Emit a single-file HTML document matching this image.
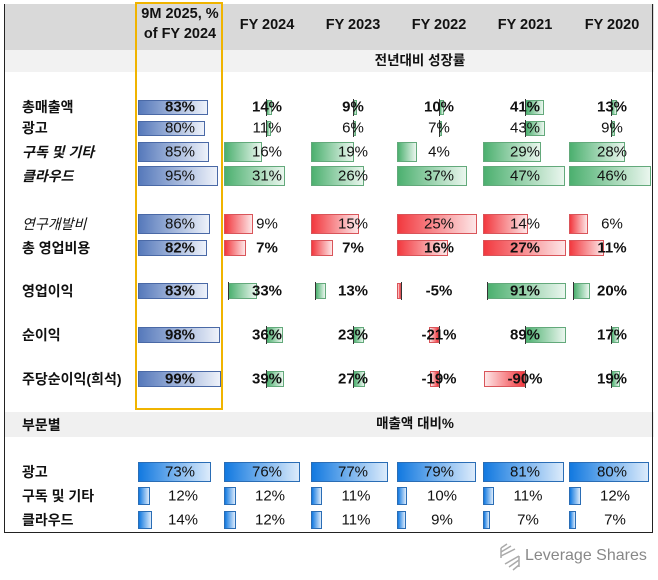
<!DOCTYPE html>
<html><head><meta charset="utf-8">
<style>
body{margin:0;background:#fff;width:658px;height:580px;position:relative;overflow:hidden;font-family:"Liberation Sans","Noto Sans CJK KR",sans-serif;}
.a{position:absolute;}
.lbl{position:absolute;left:22px;font-size:14px;font-weight:bold;color:#111;transform:translateY(-50%);white-space:nowrap;}
.val{position:absolute;font-size:15px;color:#111;transform:translate(-50%,-50%);white-space:nowrap;z-index:3;}
.bar{position:absolute;box-sizing:border-box;z-index:1;}
.axis{position:absolute;width:1px;background:#333;z-index:2;}
.hd{position:absolute;font-size:14.5px;font-weight:bold;color:#111;text-align:center;transform:translate(-50%,-50%);white-space:nowrap;line-height:20px;}
</style></head><body>
<div class="a" style="left:4px;top:4px;width:650px;height:46px;background:#d9d9d9"></div>
<div class="a" style="left:4px;top:50px;width:650px;height:22px;background:#f2f2f2"></div>
<div class="a" style="left:4px;top:412px;width:650px;height:25px;background:#f0f0f0"></div>
<div class="a" style="left:4px;top:4px;width:649px;height:529px;border:1px solid #222;border-top:none;box-sizing:border-box"></div>
<div class="a" style="left:135px;top:2px;width:88px;height:408px;border:2px solid #f0b400;box-sizing:border-box;z-index:4"></div>
<div class="hd" style="left:180px;top:24px">9M 2025, %<br>of FY 2024</div>
<div class="hd" style="left:267px;top:25px">FY 2024</div>
<div class="hd" style="left:353px;top:25px">FY 2023</div>
<div class="hd" style="left:439px;top:25px">FY 2022</div>
<div class="hd" style="left:525px;top:25px">FY 2021</div>
<div class="hd" style="left:612px;top:25px">FY 2020</div>
<div class="hd" style="left:420px;top:61px;font-size:13.5px">전년대비 성장률</div>
<div class="lbl" style="top:425px">부문별</div>
<div class="hd" style="left:415px;top:424px;font-size:13.5px">매출액 대비%</div>
<div class="a" style="left:497px;top:542px;width:160px;height:32px">
<svg width="28" height="30" style="position:absolute;left:0;top:0"><g stroke="#aaa" stroke-width="1.5" fill="none"><path d="M4 6 L10 2 M4 10 L14 4 M4 14 L18 7 M8 22 L22 14 M12 25 L22 18 M16 28 L22 23"/><path d="M4 6 V16 M22 14 V25"/></g></svg>
<span style="position:absolute;left:28px;top:5px;font-size:16px;color:#888;white-space:nowrap">Leverage Shares</span></div>
<div id="root"></div>
<script>
var rowLabels=["총매출액","광고","구독 및 기타","클라우드","연구개발비","총 영업비용","영업이익","순이익","주당순이익(희석)"];
var ytd9m=[83,80,85,95,86,82,83,98,99];
var fy2024=[14,11,16,31,9,7,33,36,39];
var fy2023=[9,6,19,26,15,7,13,23,27];
var fy2022=[10,7,4,37,25,16,-5,-21,-19];
var fy2021=[41,43,29,47,14,27,91,89,-90];
var fy2020=[13,9,28,46,6,11,20,17,19];
var segLabels=["광고","구독 및 기타","클라우드"];
var seg9m=[73,12,14];
var segFy2024=[76,12,12];
var segFy2023=[77,11,11];
var segFy2022=[79,10,9];
var segFy2021=[81,11,7];
var segFy2020=[80,12,7];

var root=document.getElementById('root');
var rowY=[107,128,152,176,224,248,291,335,379];
var barH=[15,15,20,20,20,16,16,16,16];
var boldRow=[1,0,0,0,0,1,1,1,1];
var labelStyle=["", "", "italic","italic","italic-light","","","",""];
var colX=[138,224,311,397,483,569];
var colC=[180,267,353,439,525,612];
var fyCols=[fy2024,fy2023,fy2022,fy2021,fy2020];
var colNames=["fy2024","fy2023","fy2022","fy2021","fy2020"];
function rowScale(r,v){
  if(r<2||r>6) return {off:42,w:Math.abs(v)*0.46,axis:true};
  if(r<4) return {off:0,w:Math.min(82,14+v*1.5),axis:false};
  if(r<6) return {off:0,w:Math.min(83,v*3.2),axis:false};
  return {off:4,w:Math.abs(v)*0.87,axis:true};
}
function grad(c,dir){
  var m={blue:['#5679bb','#eef2fa','#4a69a6'],green:['#4cb06f','#eaf6ee','#63a97b'],red:['#f2393f','#fde6e7','#d9555a'],bright:['#1279e0','#dcebfb','#2a6db5']}[c];
  return {bg:'linear-gradient(to '+dir+','+m[0]+','+m[1]+')',bd:m[2]};
}
function addBar(name,x,y,w,h,color,dir){
  var b=document.createElement('div');
  
  
  var g=grad(color,dir);
  b.className='bar';
  b.style.cssText='left:'+x+'px;top:'+(y-h/2)+'px;width:'+Math.max(3,w)+'px;height:'+h+'px;background:'+g.bg+';border:1px solid '+g.bd;
  root.appendChild(b);
}
function addText(name,cls,x,y,txt,bold){
  var t=document.createElement('div');
  
  
  t.className=cls;
  t.textContent=txt;
  if(cls==='val'){t.style.left=x+'px';}
  t.style.top=y+'px';
  if(bold) t.style.fontWeight='bold';
  root.appendChild(t);
  return t;
}
rowLabels.forEach(function(lab,r){
  var y=rowY[r];
  var l=addText('row-label-'+r,'lbl',0,y,lab,false);
  if(labelStyle[r]==='italic') l.style.fontStyle='italic';
  if(labelStyle[r]==='italic-light'){l.style.fontStyle='italic';l.style.fontWeight='normal';}
  var h=barH[r];
  addBar('bar-9m-row'+r,colX[0],y,ytd9m[r]*0.84,h,'blue','right');
  addText('value-9m-row'+r,'val',colC[0],y,ytd9m[r]+'%',boldRow[r]);
  fyCols.forEach(function(arr,c){
    var v=arr[r];var s=rowScale(r,v);var ax=colX[c+1]+s.off;
    var color=(r===4||r===5)?'red':(v<0?'red':'green');
    if(v<0) addBar('bar-'+colNames[c]+'-row'+r,ax-s.w,y,s.w,h,color,'left');
    else addBar('bar-'+colNames[c]+'-row'+r,ax,y,s.w,h,color,'right');
    if(s.axis){
      var a=document.createElement('div');
      
      
      a.className='axis';a.style.cssText='left:'+ax+'px;top:'+(y-h/2-1)+'px;height:'+(h+2)+'px';
      root.appendChild(a);
    }
    addText('value-'+colNames[c]+'-row'+r,'val',colC[c+1],y,v+'%',boldRow[r]);
  });
});
var segY=[472,496,520];var segH=[20,18,18];
var segCols=[seg9m,segFy2024,segFy2023,segFy2022,segFy2021,segFy2020];
segLabels.forEach(function(lab,r){
  addText('segment-label-'+r,'lbl',0,segY[r],lab,false);
  segCols.forEach(function(arr,c){
    var v=arr[r];
    addBar('segment-bar-c'+c+'-r'+r,colX[c],segY[r],v*1.0,segH[r],'bright','right');
    addText('segment-value-c'+c+'-r'+r,'val',colC[c]+(r===0?0:3),segY[r],v+'%',false);
  });
});
</script>
</body></html>
